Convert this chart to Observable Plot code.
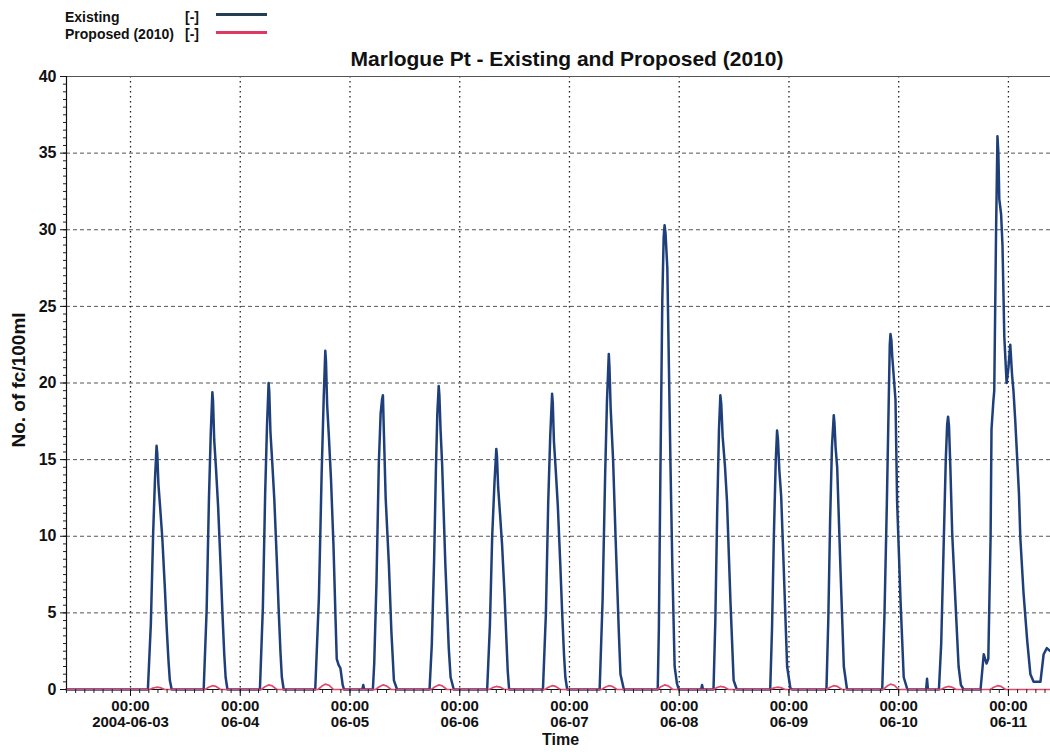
<!DOCTYPE html>
<html><head><meta charset="utf-8">
<script src="https://cdn.jsdelivr.net/npm/d3@7"></script>
<script src="https://cdn.jsdelivr.net/npm/@observablehq/plot@0.6"></script>
<style>
body{margin:0;background:#fff;}
#wrap{position:relative;width:1050px;height:756px;overflow:hidden;font-family:"Liberation Sans",Arial,sans-serif;color:#111;background:#fff;}
.lg{position:absolute;font-size:14px;font-weight:bold;white-space:nowrap;line-height:16px;z-index:2;}
.sw{position:absolute;height:3px;z-index:2;}
#title{position:absolute;left:267px;width:600px;top:47px;text-align:center;font-size:21px;font-weight:bold;line-height:24px;z-index:2;}
#chart{position:absolute;left:0;top:66px;z-index:1;}
</style></head>
<body>
<div id="wrap">
  <div id="chart"></div>
  <div class="lg" id="lg1" style="left:65px;top:9px;"></div>
  <div class="lg" style="left:185px;top:9px;">[-]</div>
  <div class="sw" id="sw1" style="left:216px;top:13px;width:51px;"></div>
  <div class="lg" id="lg2" style="left:65px;top:26px;"></div>
  <div class="lg" style="left:185px;top:26px;">[-]</div>
  <div class="sw" id="sw2" style="left:216px;top:31px;width:51px;"></div>
  <div id="title"></div>
</div>
<script>
// ---- data (hours since 2004-06-03 00:00 UTC) ----
const titleText = "Marlogue Pt - Existing and Proposed (2010)";
const seriesNames = ["Existing", "Proposed (2010)"];
const seriesColors = ["#1f3f7a", "#e0486e"];
const legendColors = ["#243e52", "#dc3a62"];
const yLabel = "No. of fc/100ml";
const xLabel = "Time";

const existingHours = [
  -14.0,
  3.8, 4.45, 4.95, 5.35, 5.7, 5.85, 6.1, 6.5, 6.95, 7.5, 7.9, 8.3, 8.6, 9.0,
  16.0, 16.65, 17.15, 17.55, 17.9, 18.05, 18.3, 18.7, 19.15, 19.7, 20.1, 20.5, 20.8, 21.2,
  28.3, 28.95, 29.45, 29.85, 30.2, 30.35, 30.6, 31.0, 31.45, 32.0, 32.4, 32.8, 33.1, 33.5,
  40.4, 41.2, 41.8, 42.25, 42.6, 42.75, 43.0, 43.4, 43.85, 44.4, 44.8, 45.1, 45.5, 45.9, 46.4, 46.7,
  50.7, 50.9, 51.1,
  53.0, 53.3, 53.8, 54.3, 54.7, 55.0, 55.2, 55.4, 55.8, 56.5, 57.05, 57.6, 58.3,
  65.4, 65.9, 66.4, 66.8, 67.1, 67.4, 67.55, 67.8, 68.15, 68.85, 69.6, 70.0, 70.7,
  78.0, 78.6, 79.1, 79.6, 80.0, 80.15, 80.4, 80.8, 81.25, 81.8, 82.2, 82.5, 82.8,
  90.2, 90.85, 91.35, 91.8, 92.2, 92.35, 92.6, 93.0, 93.45, 94.0, 94.4, 94.8, 95.1, 95.5,
  102.6, 103.25, 103.8, 104.2, 104.6, 104.75, 105.0, 105.55, 106.05, 106.8, 107.15, 107.9,
  115.3, 115.55, 115.9, 116.3, 116.6, 116.8, 117.0, 117.4, 117.75, 118.1, 118.5, 119.0, 119.5, 119.9,
  124.8, 125.0, 125.2,
  127.5, 127.9, 128.3, 128.7, 129.0, 129.2, 129.5, 130.0, 130.45, 131.2, 131.9, 132.6,
  139.9, 140.3, 140.7, 141.1, 141.4, 141.6, 141.9, 142.3, 142.85, 143.6, 144.3, 144.7,
  152.2, 152.6, 153.0, 153.4, 153.8, 153.95, 154.2, 154.55, 155.25, 156.0, 156.7,
  164.4, 164.9, 165.4, 165.8, 166.05, 166.2, 166.4, 166.6, 167.3, 167.65, 168.4, 169.1, 169.9,
  174.0, 174.2, 174.4,
  176.8, 177.3, 177.8, 178.3, 178.6, 178.8, 179.0, 179.3, 179.7, 180.4, 181.1, 181.6, 182.2,
  185.9, 186.6, 187.2, 187.6, 188.1, 188.3, 188.7, 188.9, 189.3, 189.6, 189.8, 190.0, 190.4, 190.7,
  191.1, 191.6, 192.0, 192.4, 192.8, 193.1, 193.5, 194.3, 194.6, 195.3, 196.1, 196.8, 197.5, 199.0,
  199.7, 200.4, 201.2
];
const existingValues = [
  0,
  0, 4.3, 10.2, 13.7, 15.9, 15.4, 13.4, 11.8, 9.9, 6.7, 4.1, 1.9, 0.6, 0,
  0, 5.2, 12.4, 16.7, 19.4, 18.8, 16.3, 14.4, 12.0, 8.1, 5.0, 2.3, 0.8, 0,
  0, 5.4, 12.8, 17.2, 20.0, 19.4, 16.8, 14.8, 12.4, 8.4, 5.2, 2.4, 0.8, 0,
  0, 6.0, 14.1, 19.0, 22.1, 21.4, 18.6, 16.4, 13.7, 9.3, 5.0, 2.0, 1.6, 1.4, 0.3, 0,
  0, 0.3, 0,
  0, 1.7, 7.1, 14.7, 18.0, 18.9, 19.2, 16.9, 12.5, 8.2, 3.8, 0.6, 0,
  0, 3.0, 8.5, 14.5, 18.0, 19.8, 19.2, 17.0, 14.7, 8.2, 2.7, 0.8, 0,
  0, 4.2, 10.0, 13.5, 15.7, 15.2, 13.2, 11.5, 9.5, 6.2, 3.3, 1.2, 0,
  0, 5.0, 12.2, 16.6, 19.3, 18.7, 16.2, 14.3, 12.0, 8.1, 5.0, 2.3, 0.8, 0,
  0, 5.9, 14.0, 18.8, 21.9, 21.0, 18.4, 14.9, 10.2, 3.7, 1.0, 0,
  0, 4.0, 14.5, 25.4, 29.5, 30.3, 29.8, 27.5, 21.0, 14.5, 8.0, 1.5, 0.4, 0,
  0, 0.3, 0,
  0, 4.5, 11.5, 17.0, 19.2, 18.6, 16.5, 14.6, 12.3, 5.8, 0.6, 0,
  0, 4.0, 10.0, 14.8, 16.9, 16.3, 14.3, 12.6, 8.0, 1.5, 0.1, 0,
  0, 4.5, 11.0, 15.8, 17.9, 17.4, 15.8, 14.5, 8.0, 1.5, 0,
  0, 5.0, 12.0, 18.5, 22.5, 23.2, 22.8, 21.7, 18.9, 12.3, 5.8, 0.8, 0,
  0, 0.7, 0,
  0, 3.0, 9.0, 15.0, 17.3, 17.8, 17.2, 14.5, 10.2, 5.8, 1.5, 0.3, 0,
  0, 2.3, 1.7, 2.0, 10.0, 17.0, 18.8, 19.5, 30.0, 36.1, 35.0, 32.0, 31.0, 29.0,
  23.0, 20.0, 21.0, 22.5, 20.5, 19.5, 17.5, 12.8, 9.9, 6.3, 3.2, 1.0, 0.5, 0.5,
  2.3, 2.7, 2.5
];

const proposedHours = [
  -14.0,
  4.1, 4.9, 5.7, 6.5, 7.5,
  16.3, 17.1, 17.9, 18.7, 19.7,
  28.6, 29.4, 30.2, 31.0, 32.0,
  41.0, 41.8, 42.6, 43.4, 44.4,
  53.6, 54.4, 55.2, 56.0, 57.0,
  65.8, 66.6, 67.4, 68.2, 69.2,
  78.4, 79.2, 80.0, 80.8, 81.8,
  90.6, 91.4, 92.2, 93.0, 94.0,
  103.0, 103.8, 104.6, 105.4, 106.4,
  115.2, 116.0, 116.8, 117.6, 118.6,
  127.4, 128.2, 129.0, 129.8, 130.8,
  139.8, 140.6, 141.4, 142.2, 143.2,
  152.2, 153.0, 153.8, 154.6, 155.6,
  164.6, 165.4, 166.2, 167.0, 168.0,
  177.2, 178.0, 178.8, 179.6, 180.6,
  188.0, 188.8, 189.6, 190.4, 191.4,
  201.2
];
const proposedValues = [
  0,
  0, 0.09, 0.15, 0.12, 0,
  0, 0.15, 0.25, 0.2, 0,
  0, 0.18, 0.3, 0.24, 0,
  0, 0.21, 0.35, 0.28, 0,
  0, 0.18, 0.3, 0.24, 0,
  0, 0.18, 0.3, 0.24, 0,
  0, 0.12, 0.2, 0.16, 0,
  0, 0.15, 0.25, 0.2, 0,
  0, 0.15, 0.25, 0.2, 0,
  0, 0.18, 0.3, 0.24, 0,
  0, 0.12, 0.2, 0.16, 0,
  0, 0.09, 0.15, 0.12, 0,
  0, 0.15, 0.25, 0.2, 0,
  0, 0.21, 0.35, 0.28, 0,
  0, 0.12, 0.2, 0.16, 0,
  0, 0.15, 0.25, 0.2, 0,
  0
];

const xTickDates = ["2004-06-03", "2004-06-04", "2004-06-05", "2004-06-06", "2004-06-07",
                    "2004-06-08", "2004-06-09", "2004-06-10", "2004-06-11"];
const xTickLabels = ["00:00\n2004-06-03", "00:00\n06-04", "00:00\n06-05", "00:00\n06-06", "00:00\n06-07",
                     "00:00\n06-08", "00:00\n06-09", "00:00\n06-10", "00:00\n06-11"];
const yTicks = [0, 5, 10, 15, 20, 25, 30, 35, 40];
const yGrid = [5, 10, 15, 20, 25, 30, 35];

// ---- build ----
const base = Date.UTC(2004, 5, 3, 0, 0);
const toDate = h => new Date(base + h * 3600e3);
const existing = existingHours.map((h, i) => ({t: toDate(h), v: existingValues[i]}));
const proposed = proposedHours.map((h, i) => ({t: toDate(h), v: proposedValues[i]}));
const xStart = toDate(-14.0), xEnd = toDate(201.2);
const dayTicks = xTickDates.map(s => new Date(s + "T00:00:00Z"));
const labelOf = d => xTickLabels[dayTicks.findIndex(t => +t === +d)];
const minorX = d3.utcHour.every(2).range(xStart, xEnd);
const minorY = d3.range(0, 40.001, 0.5);

document.getElementById("lg1").textContent = seriesNames[0];
document.getElementById("lg2").textContent = seriesNames[1];
document.getElementById("sw1").style.background = legendColors[0];
document.getElementById("sw2").style.background = legendColors[1];
document.getElementById("title").textContent = titleText;

const font = "'Liberation Sans', Arial, sans-serif";
const chart = Plot.plot({
  width: 1050,
  height: 690,
  marginLeft: 66,
  marginRight: 0,
  marginTop: 10,
  marginBottom: 67,
  style: {fontFamily: font, background: "transparent", color: "#111", overflow: "visible"},
  x: {type: "utc", domain: [xStart, xEnd]},
  y: {domain: [0, 40]},
  marks: [
    Plot.ruleY(yGrid, {stroke: "#555", strokeDasharray: "4,3", strokeWidth: 1}),
    Plot.ruleX(dayTicks, {stroke: "#222", strokeDasharray: "1.5,3.5", strokeWidth: 1.3}),
    Plot.ruleY([40], {stroke: "#555", strokeWidth: 1.2}),
    Plot.line(existing, {x: "t", y: "v", stroke: seriesColors[0], strokeWidth: 2.5, strokeLinejoin: "round"}),
    Plot.ruleX([xStart], {stroke: "#111", strokeWidth: 1.2}),
    Plot.ruleY([0], {stroke: "#111", strokeWidth: 1.2}),
    Plot.line(proposed, {x: "t", y: "v", stroke: seriesColors[1], strokeWidth: 1.7, strokeLinejoin: "round"}),
    Plot.axisY({ticks: minorY, tickSize: 3, tickFormat: () => "", label: null, stroke: "#222"}),
    Plot.axisY({ticks: yTicks, tickSize: 6, tickPadding: 4, fontSize: 16, fontWeight: "bold", label: null, stroke: "#111"}),
    Plot.axisX({ticks: minorX, tickSize: 4, tickFormat: () => "", label: null, stroke: "#222"}),
    Plot.axisX({ticks: dayTicks, tickSize: 7, tickPadding: 3, tickFormat: labelOf, fontSize: 15, fontWeight: "bold", lineHeight: 1.07, label: null, stroke: "#111"}),
    Plot.text([yLabel], {frameAnchor: "left", textAnchor: "middle", rotate: -90, dx: -48, dy: -3, fontSize: 19, fontWeight: "bold", fill: "#111"}),
    Plot.text([xLabel], {frameAnchor: "bottom", dy: 55, dx: 2, fontSize: 16, fontWeight: "bold", fill: "#111"})
  ]
});
document.getElementById("chart").appendChild(chart);
</script>
</body></html>
